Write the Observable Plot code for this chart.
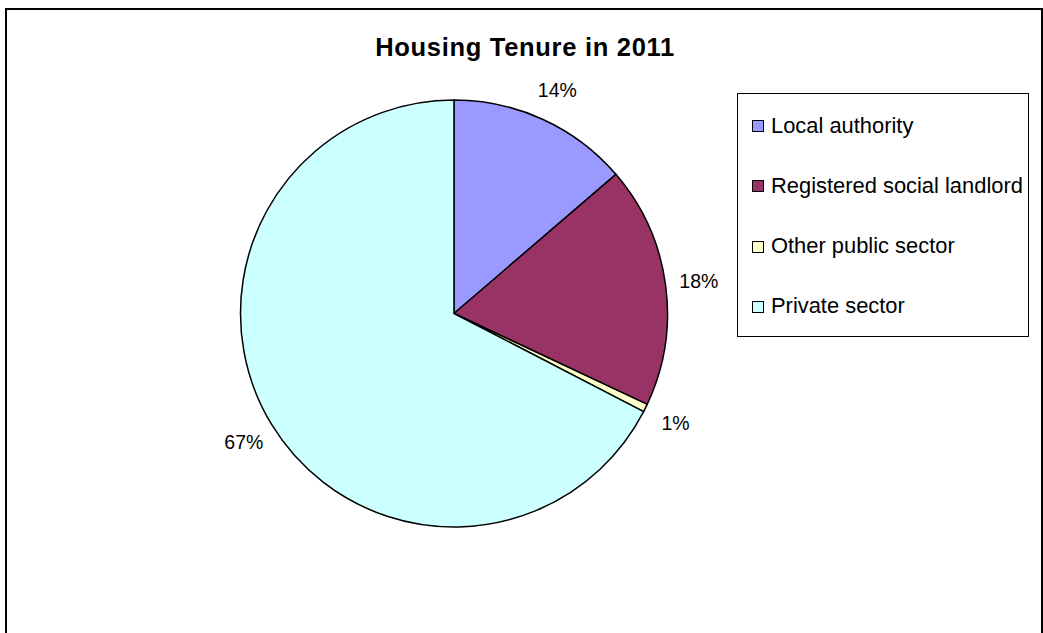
<!DOCTYPE html>
<html>
<head>
<meta charset="utf-8">
<script src="https://cdn.jsdelivr.net/npm/d3@7"></script>
<script src="https://cdn.jsdelivr.net/npm/@observablehq/plot@0.6"></script>
<style>
  html, body { margin: 0; padding: 0; background: #fff; width: 1043px; height: 633px; overflow: hidden;
    font-family: "Liberation Sans", Arial, sans-serif; }
  #frame { position: absolute; left: 5px; top: 8px; width: 1038px; height: 700px; border: 2px solid #000; box-sizing: border-box; }
  #title { position: absolute; left: 525px; top: 34.5px; transform: translateX(-50%); white-space: nowrap;
    font-size: 25.5px; line-height: 25.5px; font-weight: bold; letter-spacing: 0.7px; color: #000; }
  #chart { position: absolute; left: 0; top: 0; }
  #legend { position: absolute; left: 737px; top: 93px; width: 292px; height: 244px; border: 1px solid #000; box-sizing: border-box; background: #fff; }
  .item { position: absolute; left: 0; height: 22px; width: 290px; }
  .sw { position: absolute; left: 14px; top: 5px; width: 12px; height: 12px; border: 1px solid #000; box-sizing: border-box; }
  .lb { position: absolute; left: 33px; top: -0.5px; font-size: 21.9px; line-height: 21.9px; white-space: nowrap; color: #000; }
</style>
</head>
<body>
<div id="frame"></div>
<div id="chart"></div>
<div id="title">Housing Tenure in 2011</div>
<div id="legend"></div>
<script>
// Data
const categories = ["Local authority", "Registered social landlord", "Other public sector", "Private sector"];
const shares = [13.7, 18.3, 0.6, 67.4];
const colors = ["#9999FF", "#993366", "#FFFFCC", "#CCFFFF"];

const data = categories.map((c, i) => ({category: c, value: shares[i], color: colors[i]}));
const total = d3.sum(shares);
const arcs = d3.pie().sort(null).value(d => d.value)(data);

const labelRadius = 1.155;
const labels = arcs.map(a => {
  const m = (a.startAngle + a.endAngle) / 2;
  return {x: labelRadius * Math.sin(m), y: labelRadius * Math.cos(m), text: Math.round(a.data.value / total * 100) + "%"};
});

function pieMark(index, scales) {
  const cx = scales.x(0), cy = scales.y(0);
  const r = scales.x(1) - scales.x(0);
  const arcGen = d3.arc().innerRadius(0).outerRadius(r);
  const g = d3.create("svg:g").attr("transform", `translate(${cx},${cy})`);
  g.selectAll("path").data(arcs).join("path")
    .attr("d", arcGen)
    .attr("fill", d => d.data.color)
    .attr("stroke", "#000")
    .attr("stroke-width", 1.5)
    .attr("stroke-linejoin", "round");
  return g.node();
}

const plot = Plot.plot({
  width: 1043,
  height: 633,
  margin: 0,
  x: {domain: [-1, 1], range: [240.5, 667.5], axis: null},
  y: {domain: [-1, 1], range: [527, 100], axis: null},
  style: {background: "transparent", fontFamily: "'Liberation Sans', Arial, sans-serif", overflow: "visible"},
  marks: [
    pieMark,
    Plot.text(labels, {x: "x", y: "y", text: "text", fontSize: 19.5, fill: "#000", textAnchor: "middle", dy: 1})
  ]
});
document.getElementById("chart").appendChild(plot);

// Legend
const legend = d3.select("#legend");
categories.forEach((c, i) => {
  const it = legend.append("div").attr("class", "item").style("top", (21 + i * 60.3) + "px");
  it.append("div").attr("class", "sw").style("background", colors[i]);
  it.append("div").attr("class", "lb").text(c);
});
</script>
</body>
</html>
